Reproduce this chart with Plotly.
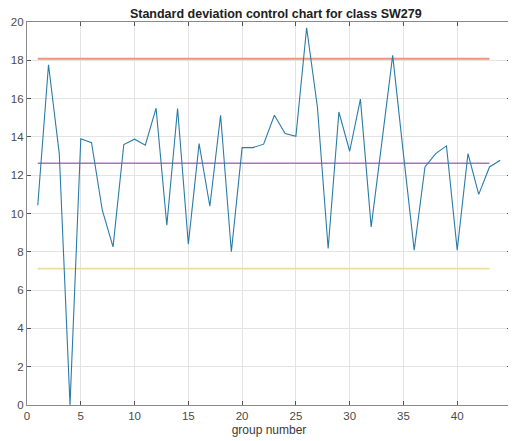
import plotly.graph_objects as go

groups = list(range(1, 45))
std_values = [10.43, 17.77, 13.13, 0.0, 13.9, 13.7, 10.17, 8.26, 13.6, 13.88,
              13.57, 15.5, 9.39, 15.48, 8.4, 13.65, 10.38, 15.13, 8.0, 13.44,
              13.44, 13.62, 15.13, 14.17, 14.03, 19.7, 15.56, 8.17, 15.3, 13.25,
              15.97, 9.3, 13.75, 18.26, 13.1, 8.09, 12.43, 13.13, 13.53, 8.09,
              13.13, 11.0, 12.43, 12.78]
limit_x = [1, 43]
ucl = 18.08
cl = 12.62
lcl = 7.12

fig = go.Figure()
fig.add_trace(go.Scatter(x=limit_x, y=[ucl, ucl], mode="lines",
                         line=dict(color="#E9957C", width=1.8), showlegend=False))
fig.add_trace(go.Scatter(x=limit_x, y=[cl, cl], mode="lines",
                         line=dict(color="#A578B0", width=1.5), showlegend=False))
fig.add_trace(go.Scatter(x=limit_x, y=[lcl, lcl], mode="lines",
                         line=dict(color="#EEDC98", width=1.8), showlegend=False))
fig.add_trace(go.Scatter(x=groups, y=std_values, mode="lines",
                         line=dict(color="#2A7CA8", width=1.1), showlegend=False))

axis_common = dict(showgrid=True, gridcolor="#E3E3E3", gridwidth=1, automargin=False,
                   showline=True, linecolor="#8A8A8A", linewidth=1.2, mirror="allticks",
                   ticks="inside", ticklen=4, tickcolor="#555555", zeroline=False,
                   tickfont=dict(family="Liberation Sans, Arial", size=11.5, color="#4A4A4A"))

fig.update_layout(
    width=508, height=433,
    margin=dict(l=19, r=5, t=14, b=36),
    paper_bgcolor="white", plot_bgcolor="white",
    title=dict(text="<b>Standard deviation control chart for class SW279</b>",
               xref="paper", x=0.514, xanchor="center",
               yref="container", y=0.988, yanchor="middle",
               font=dict(family="Liberation Sans, Arial", size=12.5, color="#202020")),
    xaxis=dict(range=[0, 45], dtick=5, tick0=0,
               title=dict(text="group number", standoff=4,
                          font=dict(family="Liberation Sans, Arial", size=12, color="#3A3A3A")),
               **axis_common),
    yaxis=dict(range=[0, 20], dtick=2, tick0=0, **axis_common),
)

fig.write_html("out.html")
